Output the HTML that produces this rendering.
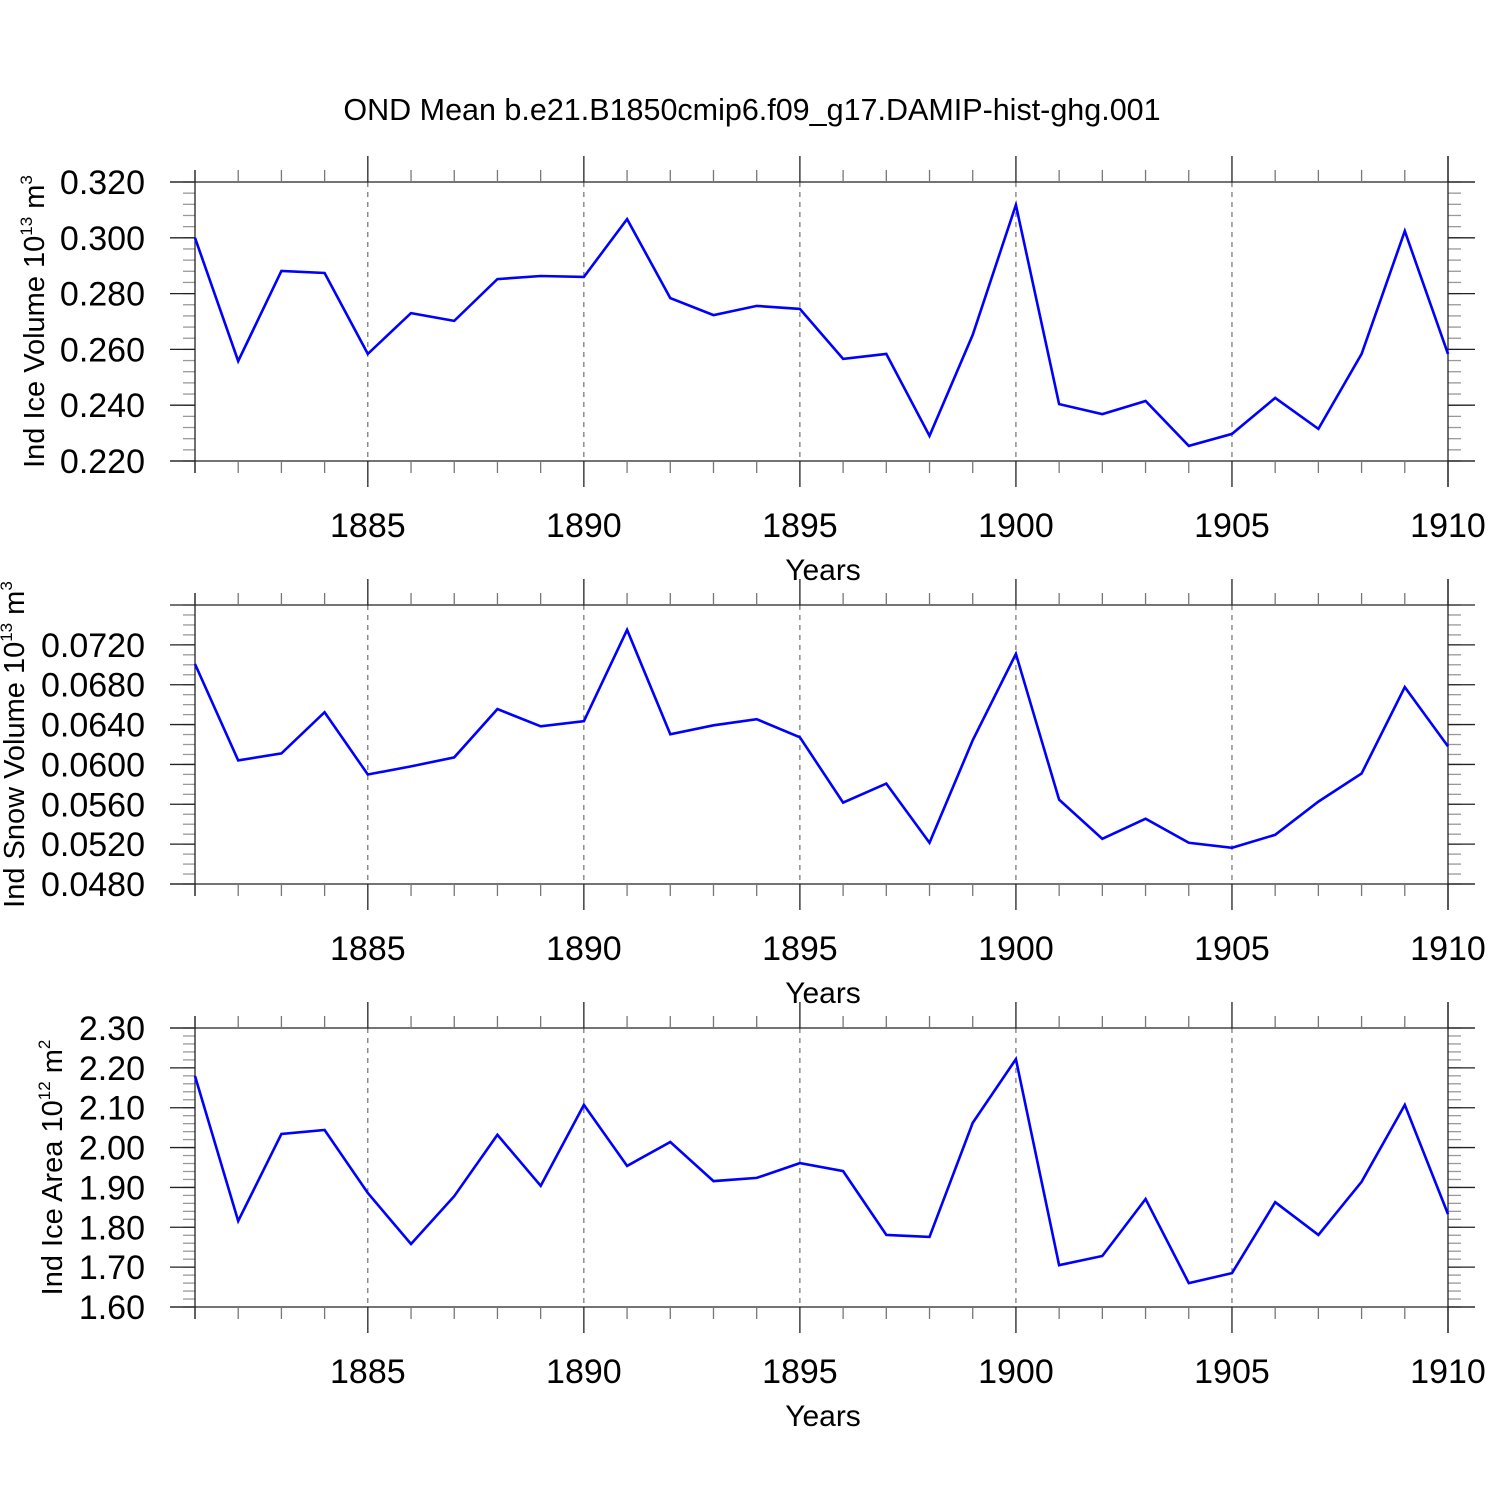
<!DOCTYPE html>
<html><head><meta charset="utf-8"><style>
html,body{margin:0;padding:0;background:#fff;}
svg{display:block;font-family:"Liberation Sans",Arial,sans-serif;}
</style></head><body>
<svg id="chart" width="1500" height="1500" viewBox="0 0 1500 1500" xmlns="http://www.w3.org/2000/svg">
<rect width="1500" height="1500" fill="#fff"/>
<text x="752" y="120" font-size="30.5" text-anchor="middle">OND Mean b.e21.B1850cmip6.f09_g17.DAMIP-hist-ghg.001</text>
</svg>
<script>
const years = [1881,1882,1883,1884,1885,1886,1887,1888,1889,1890,1891,1892,1893,1894,1895,1896,1897,1898,1899,1900,1901,1902,1903,1904,1905,1906,1907,1908,1909,1910];
const iceVolume = [0.300,0.2558,0.2881,0.2874,0.2584,0.2730,0.2702,0.2852,0.2863,0.2860,0.3067,0.2784,0.2723,0.2756,0.2745,0.2566,0.2584,0.2290,0.2652,0.3118,0.2404,0.2368,0.2415,0.2254,0.2297,0.2426,0.2315,0.2584,0.3024,0.2584];
const snowVolume = [0.07008,0.06040,0.06111,0.06524,0.05899,0.0598,0.06071,0.06555,0.06383,0.06434,0.07351,0.06302,0.06393,0.06454,0.06272,0.05617,0.05808,0.05213,0.06242,0.07109,0.05647,0.05254,0.05455,0.05213,0.05163,0.05294,0.05627,0.05909,0.06776,0.06181];
const iceArea = [2.1795,1.8158,2.034,2.044,1.886,1.758,1.878,2.032,1.904,2.107,1.954,2.014,1.916,1.924,1.961,1.941,1.781,1.776,2.062,2.222,1.705,1.728,1.871,1.660,1.685,1.863,1.781,1.914,2.107,1.833];
const xTickLabels = ["1885","1890","1895","1900","1905","1910"];
const iceVolTicks = ["0.220","0.240","0.260","0.280","0.300","0.320"];
const snowVolTicks = ["0.0480","0.0520","0.0560","0.0600","0.0640","0.0680","0.0720"];
const iceAreaTicks = ["1.60","1.70","1.80","1.90","2.00","2.10","2.20","2.30"];

const NS="http://www.w3.org/2000/svg";
const svg=document.getElementById('chart');
function mk(tag,attrs,parent){const e=document.createElementNS(NS,tag);for(const k in attrs)e.setAttribute(k,attrs[k]);(parent||svg).appendChild(e);return e;}
const X0=195,X1=1448;
function xScale(yr){return X0+(yr-1881)*(X1-X0)/29;}

const panels=[
 {key:'ice-volume',data:iceVolume,ticks:iceVolTicks,top:182,bot:461,min:0.220,max:0.320,minor:0.004,label:'Ind Ice Volume 10',sup:'13',unit:' m',usup:'3',lx:44},
 {key:'snow-volume',data:snowVolume,ticks:snowVolTicks,top:605,bot:884,min:0.048,max:0.076,minor:0.001,label:'Ind Snow Volume 10',sup:'13',unit:' m',usup:'3',lx:24},
 {key:'ice-area',data:iceArea,ticks:iceAreaTicks,top:1028,bot:1307,min:1.60,max:2.30,minor:0.02,label:'Ind Ice Area 10',sup:'12',unit:' m',usup:'2',lx:62}
];

panels.forEach(p=>{
 const g=mk('g',{});
 
 
 const yS=v=>p.bot-(v-p.min)*(p.bot-p.top)/(p.max-p.min);
 xTickLabels.slice(0,5).forEach(t=>{
  const x=xScale(+t);
  const l=mk('line',{x1:x,x2:x,y1:p.top,y2:p.bot,stroke:'#555','stroke-width':1,'stroke-dasharray':'5,5'},g);
  
  
 });
 const nMinor=Math.round((p.max-p.min)/p.minor);
 for(let i=0;i<=nMinor;i++){
  const y=p.bot-i*(p.bot-p.top)/nMinor;
  mk('line',{x1:183,x2:X0,y1:y,y2:y,stroke:'#999','stroke-width':1.3},g);
  mk('line',{x1:X1,x2:1461,y1:y,y2:y,stroke:'#999','stroke-width':1.3},g);
 }
 p.ticks.forEach(t=>{
  const y=yS(parseFloat(t));
  mk('line',{x1:170,x2:X0,y1:y,y2:y,stroke:'#222','stroke-width':1.3},g);
  mk('line',{x1:X1,x2:1475,y1:y,y2:y,stroke:'#222','stroke-width':1.3},g);
  const tx=mk('text',{x:145,y:y+12,'font-size':34,'text-anchor':'end'},g);
  
  
  tx.textContent=t;
 });
 mk('line',{x1:170,x2:1475,y1:p.top,y2:p.top,stroke:'#222','stroke-width':1.3},g);
 mk('line',{x1:170,x2:1475,y1:p.bot,y2:p.bot,stroke:'#222','stroke-width':1.3},g);
 years.forEach(yr=>{
  const x=xScale(yr);
  const major=yr%5===0;
  const len=major?26:12;
  mk('line',{x1:x,x2:x,y1:p.top-len,y2:p.top,stroke:major?'#222':'#777','stroke-width':1.3},g);
  mk('line',{x1:x,x2:x,y1:p.bot,y2:p.bot+len,stroke:major?'#222':'#777','stroke-width':1.3},g);
 });
 mk('line',{x1:X0,x2:X0,y1:p.top-12,y2:p.bot+12,stroke:'#222','stroke-width':1.3},g);
 mk('line',{x1:X1,x2:X1,y1:p.top-26,y2:p.bot+26,stroke:'#222','stroke-width':1.3},g);
 xTickLabels.forEach(t=>{
  const tx=mk('text',{x:xScale(+t),y:p.bot+76,'font-size':34,'text-anchor':'middle'},g);
  
  
  tx.textContent=t;
 });
 const xt=mk('text',{x:823,y:p.bot+119,'font-size':30,'text-anchor':'middle'},g);
 
 
 xt.textContent='Years';
 const cy=(p.top+p.bot)/2;
 const yt=mk('text',{x:0,y:0,'font-size':29,'text-anchor':'middle',transform:`translate(${p.lx},${cy}) rotate(-90)`},g);
 
 
 yt.appendChild(document.createTextNode(p.label));
 const s1=mk('tspan',{dy:-12,'font-size':17},yt);s1.textContent=p.sup;
 const s2=mk('tspan',{dy:12},yt);s2.textContent=p.unit;
 const s3=mk('tspan',{dy:-12,'font-size':17},yt);s3.textContent=p.usup;
 const pts=p.data.map((v,i)=>xScale(years[i]).toFixed(1)+','+yS(v).toFixed(1)).join(' ');
 const pl=mk('polyline',{points:pts,fill:'none',stroke:'#0000ff','stroke-width':2.6,'stroke-linejoin':'miter'},g);
 
 
});
</script>
</body></html>
